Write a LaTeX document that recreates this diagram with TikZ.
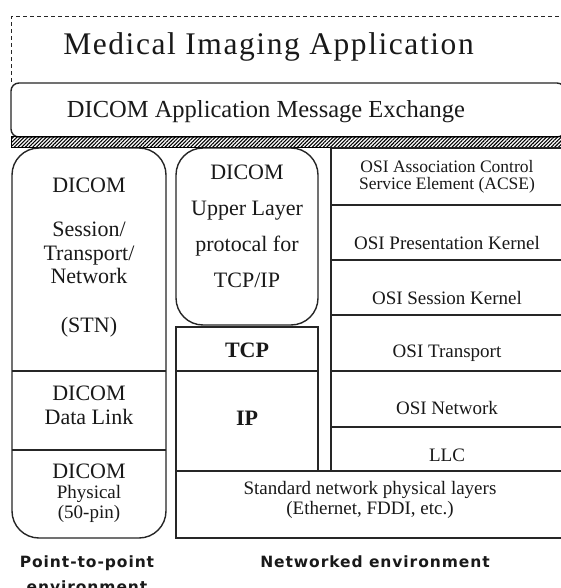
\documentclass[tikz,border=0pt]{standalone}
\usepackage{fontspec}
\setmainfont{Liberation Serif}
\newfontfamily\titlefont[LetterSpace=5]{Liberation Serif}
\newfontfamily\envfont[LetterSpace=6]{DejaVu Sans}
\usetikzlibrary{patterns.meta}
\begin{document}
\begin{tikzpicture}[x=1pt,y=-1pt,
  frame/.style={draw=black!85,line width=1.4pt,inner sep=0pt,outer sep=0pt},
  txt/.style={inner sep=0pt,align=center,text=black!90},
  big/.style={txt,font=\fontsize{22}{23.5}\selectfont},
  mid/.style={txt,font=\fontsize{19}{19.5}\selectfont},
  osi/.style={txt,font=\fontsize{19}{20}\selectfont},
  bld/.style={txt,font=\bfseries\fontsize{22}{24}\selectfont},
  env/.style={txt,font=\envfont\bfseries\fontsize{15.5}{25}\selectfont}]
\useasboundingbox (0,0) rectangle (560,588);
\fill[white] (0,0) rectangle (560,588);
% application
\node[txt,font=\titlefont\fontsize{31.5}{33}\selectfont] (title) at (268.5,47) {Medical Imaging Application};
\draw[black!85,line width=1pt,dash pattern=on 4pt off 3pt] (11,82) -- (11,17) -- (565,17);
% message exchange
\node[frame,rounded corners=8pt,minimum width=554pt,minimum height=54pt] (msgbox) at (288,110) {};
\node[txt,font=\fontsize{24.5}{26}\selectfont] (msg) at (266,112) {DICOM Application Message Exchange};
% hatched band
\path[pattern={Lines[angle=45,distance=2.6pt,line width=1.1pt]},pattern color=black] (11,137) rectangle (565,148);
\draw[black,line width=1pt] (11,137) -- (565,137) (11,148) -- (565,148) (11,137) -- (11,148);
% point-to-point column
\node[frame,rounded corners=27pt,minimum width=154pt,minimum height=390pt] (stn) at (89,343) {};
\draw[frame] (stn.west |- 0,371) -- (stn.east |- 0,371);
\draw[frame] (stn.west |- 0,450) -- (stn.east |- 0,450);
\node[big] (l1) at (89,185) {DICOM};
\node[big] (l2) at (89,253) {Session/\\Transport/\\Network};
\node[big] (l3) at (89,327) {(STN)};
\node[big] (l4) at (89,405.5) {DICOM\\Data Link};
\node[big] (l5) at (89,471.5) {DICOM};
\node[mid] (l6) at (89,504) {Physical\\(50-pin)};
% TCP/IP column
\node[frame,rounded corners=27pt,minimum width=142pt,minimum height=177pt] (ul) at (247,236.5) {};
\node[txt,font=\fontsize{22}{36}\selectfont] (ult) at (247,226) {DICOM\\Upper Layer\\protocal for\\TCP/IP};
\node[frame,minimum width=142pt,minimum height=44pt] (tcpbox) at (247,349) {};
\node[bld] (tcp) at (247,350) {TCP};
\node[frame,minimum width=142pt,minimum height=100pt] (ipbox) at (247,421) {};
\node[bld] (ip) at (247,418) {IP};
\node[frame,minimum width=389pt,minimum height=67pt] (physbox) at (370.5,504.5) {};
\node[osi] (phys) at (370,500) {Standard network physical layers\\(Ethernet, FDDI, etc.)};
% OSI column
\node[frame,minimum width=234pt,minimum height=57pt] (c1) at (448,176.5) {};
\node[frame,minimum width=234pt,minimum height=55pt] (c2) at (448,232.5) {};
\node[frame,minimum width=234pt,minimum height=55pt] (c3) at (448,287.5) {};
\node[frame,minimum width=234pt,minimum height=56pt] (c4) at (448,343) {};
\node[frame,minimum width=234pt,minimum height=56pt] (c5) at (448,399) {};
\node[frame,minimum width=234pt,minimum height=44pt] (c6) at (448,449) {};
\node[txt,font=\fontsize{17.5}{17}\selectfont] (t1) at (447,176.5) {OSI Association Control\\Service Element (ACSE)};
\node[osi] (t2) at (447,243) {OSI Presentation Kernel};
\node[osi] (t3) at (447,298) {OSI Session Kernel};
\node[osi] (t4) at (447,353) {OSI Transport};
\node[osi] (t5) at (447,408) {OSI Network};
\node[osi] (t6) at (447,455) {LLC};
% environment labels
\node[env] (p2p) at (87,574.5) {Point-to-point\\environment};
\node[env] (net) at (375,562) {Networked environment};
\end{tikzpicture}
\end{document}
